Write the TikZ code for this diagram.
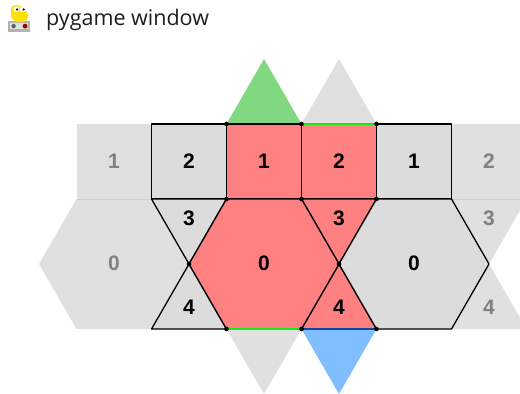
\documentclass[tikz,border=0pt]{standalone}
\usepackage{fontspec}
\setmainfont{Liberation Sans}
\newfontfamily\titlefont{Open Sans}
\definecolor{tilered}{RGB}{255,128,128}
\definecolor{tilegray}{RGB}{220,220,220}
\definecolor{outergray}{RGB}{224,224,224}
\definecolor{outerline}{RGB}{205,205,205}
\definecolor{tilegreen}{RGB}{128,216,128}
\definecolor{tileblue}{RGB}{128,190,255}
\definecolor{edgegreen}{RGB}{20,235,20}
\definecolor{edgeblue}{RGB}{20,70,160}
\definecolor{labgray}{RGB}{128,128,128}
\definecolor{titletext}{RGB}{30,30,30}
\tikzset{
  outer/.style={fill=outergray, draw=none},
  inner/.style={draw=black, line width=1.3pt, line join=round},
  lab/.style={font=\fontsize{21}{21}\selectfont\bfseries, text=black, inner sep=0pt},
  olab/.style={lab, text=labgray},
  vdot/.style={fill=black},
}
\begin{document}
\begin{tikzpicture}[x=1pt,y=-1pt]
\useasboundingbox (0,0) rectangle (520,394);
\fill[white] (0,0) rectangle (520,394);
\begin{scope}
\clip (0,0) rectangle (520,394);
% coordinates
\coordinate (A1) at (76.5,124); \coordinate (B1) at (151.5,124); \coordinate (C1) at (226.5,124);
\coordinate (D1) at (301.5,124); \coordinate (E1) at (376.5,124); \coordinate (F1) at (451.5,124); \coordinate (G1) at (526.5,124);
\coordinate (A2) at (76.5,199); \coordinate (B2) at (151.5,199); \coordinate (C2) at (226.5,199);
\coordinate (D2) at (301.5,199); \coordinate (E2) at (376.5,199); \coordinate (F2) at (451.5,199); \coordinate (G2) at (526.5,199);
\coordinate (A3) at (76.5,329); \coordinate (B3) at (151.5,329); \coordinate (C3) at (226.5,329);
\coordinate (D3) at (301.5,329); \coordinate (E3) at (376.5,329); \coordinate (F3) at (451.5,329); \coordinate (G3) at (526.5,329);
\coordinate (M0) at (39,264); \coordinate (M1) at (189,264); \coordinate (M2) at (339,264); \coordinate (M3) at (489,264);
\coordinate (TG) at (264,59); \coordinate (TO) at (339,59);
\coordinate (BO) at (264,394); \coordinate (BB) at (339,394);

% outer (faded) tiles
\fill[outergray] (A1) rectangle (B2);
\fill[outergray] (F1) rectangle (G2);
\fill[outergray] (M0) -- (A2) -- (B2) -- (M1) -- (B3) -- (A3) -- cycle;
\fill[outergray] (F2) -- (G2) -- (M3) -- cycle;
\fill[outergray] (M3) -- (G3) -- (F3) -- cycle;
\fill[outergray] (D1) -- (TO) -- (E1) -- cycle;
\fill[outergray] (C3) -- (BO) -- (D3) -- cycle;
\draw[outerline, line width=0.6pt] (A2) -- (B2) (F2) -- (G2);

% coloured triangles
\fill[tilegreen] (C1) -- (TG) -- (D1) -- cycle;
\fill[tileblue] (D3) -- (BB) -- (E3) -- cycle;

% inner tiles
\filldraw[inner, fill=tilegray] (B1) rectangle (C2);
\filldraw[inner, fill=tilered] (C1) rectangle (D2);
\filldraw[inner, fill=tilered] (D1) rectangle (E2);
\filldraw[inner, fill=tilegray] (E1) rectangle (F2);
\filldraw[inner, fill=tilegray] (B2) -- (C2) -- (M1) -- cycle;
\filldraw[inner, fill=tilegray] (M1) -- (C3) -- (B3) -- cycle;
\filldraw[inner, fill=tilered] (D2) -- (E2) -- (M2) -- cycle;
\filldraw[inner, fill=tilered] (M2) -- (E3) -- (D3) -- cycle;
\filldraw[inner, fill=tilered] (M1) -- (C2) -- (D2) -- (M2) -- (D3) -- (C3) -- cycle;
\filldraw[inner, fill=tilegray] (M2) -- (E2) -- (F2) -- (M3) -- (F3) -- (E3) -- cycle;

% highlighted edges
\draw[edgegreen, line width=1.8pt] (D1) -- (E1);
\draw[edgegreen, line width=1.8pt] (C3) -- (D3);
\draw[edgeblue, line width=1.8pt] (D3) -- (E3);

% vertex dots
\foreach \p in {C1,D1,E1,C2,D2,E2,M1,M2,C3,D3,E3}
  \fill[vdot] (\p) circle (2.3pt);

% labels
\node[olab] (l-o1) at (114,161.5) {1};
\node[lab]  (l-s2a) at (189,161.5) {2};
\node[lab]  (l-s1a) at (264,161.5) {1};
\node[lab]  (l-s2b) at (339,161.5) {2};
\node[lab]  (l-s1b) at (414,161.5) {1};
\node[olab] (l-o2) at (489,161.5) {2};
\node[olab] (l-o0) at (114,263) {0};
\node[lab]  (l-h0a) at (264,263) {0};
\node[lab]  (l-h0b) at (414,263) {0};
\node[lab]  (l-t3a) at (189,218) {3};
\node[lab]  (l-t4a) at (189,307) {4};
\node[lab]  (l-t3b) at (339,218) {3};
\node[lab]  (l-t4b) at (339,307) {4};
\node[olab] (l-o3) at (489,218) {3};
\node[olab] (l-o4) at (489,307) {4};
\end{scope}

% title bar
\node[anchor=base west, inner sep=0pt, text=titletext, font=\titlefont\fontsize{21.5}{21.5}\selectfont] (title) at (46,25) {pygame window};
% pygame icon
\begin{scope}[shift={(19,18)}, scale=1.35]
  \fill[gray!60] (-8,2) rectangle (8,10);
  \fill[gray!25] (-6.5,3.5) rectangle (6.5,8.5);
  \fill[gray!70!black] (-4,6) circle (1.6);
  \fill[red!60!black] (4.5,6) circle (1.8);
  \fill[yellow!85!orange] (-6,-6) .. controls (-6,-11) and (2,-11) .. (3,-6) .. controls (8,-5) and (8,2) .. (3,3) .. controls (-2,4) and (-7,2) .. (-6,-6) -- cycle;
  \fill[white] (-2,-6.5) circle (2.2); \fill[white] (2.8,-6.5) circle (2.2);
  \fill[black] (-1.4,-6.3) circle (0.9); \fill[black] (3.4,-6.3) circle (0.9);
\end{scope}
\end{tikzpicture}
\end{document}
